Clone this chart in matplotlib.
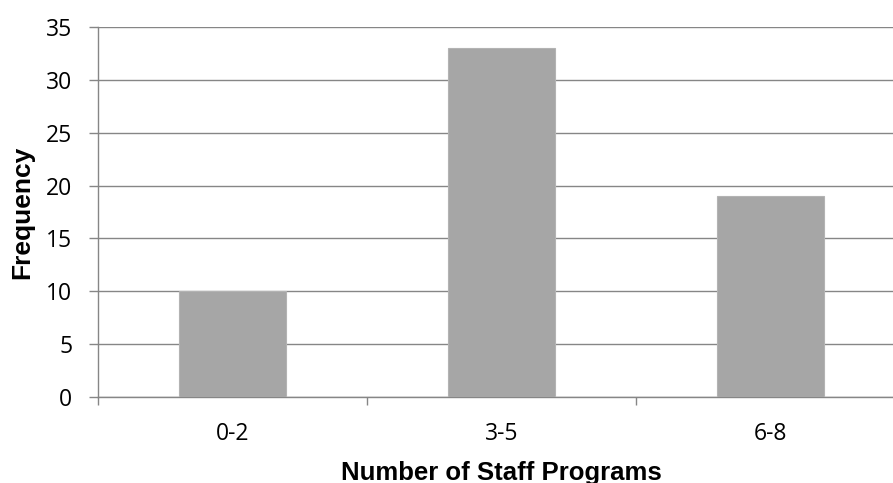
import numpy as np
import matplotlib
matplotlib.use("Agg")
import matplotlib.pyplot as plt
from matplotlib.ticker import FixedLocator

# frequency of staff program counts
categories = ["0-2", "3-5", "6-8"]
frequency = [10, 33, 19]
y_ticks = [0, 5, 10, 15, 20, 25, 30, 35]

grid_color = "#868686"
bar_color = "#a6a6a6"

fig = plt.figure(figsize=(8.93, 4.83), dpi=100)
# plot area runs a little past the right edge of the figure
ax = fig.add_axes([98 / 893, 1 - 397 / 483, 807 / 893, 370 / 483])

x = np.arange(len(categories))
ax.bar(x, frequency, width=0.4, color=bar_color, edgecolor="#b3b3b3",
       linewidth=0.8, zorder=3)

ax.set_xlim(-0.5, len(categories) - 0.5)
ax.set_ylim(0, 35)
ax.set_yticks(y_ticks)
ax.yaxis.grid(True, color=grid_color, linewidth=1.0, zorder=0)
ax.set_axisbelow(True)

for side in ["top", "right"]:
    ax.spines[side].set_visible(False)
ax.spines["left"].set_color(grid_color)
ax.spines["bottom"].set_color(grid_color)
ax.spines["left"].set_linewidth(1.0)
ax.spines["bottom"].set_linewidth(1.0)

# category labels in the middle, tick marks on the boundaries
ax.set_xticks(x)
ax.set_xticklabels(categories)
ax.xaxis.set_minor_locator(FixedLocator(np.arange(len(categories) + 1) - 0.5))
ax.tick_params(axis="x", which="major", length=0, pad=18, labelsize=16.5,
               labelcolor="#000000")
ax.tick_params(axis="x", which="minor", length=6, width=1, color=grid_color,
               direction="out")
ax.tick_params(axis="y", length=6.5, width=1, color=grid_color, pad=12,
               labelsize=16.5)
for lbl in ax.get_xticklabels() + ax.get_yticklabels():
    lbl.set_fontfamily("Open Sans")

ax.set_xlabel("Number of Staff Programs", fontsize=18.5, fontweight="bold",
              fontfamily="Liberation Sans")
ax.set_ylabel("Frequency", fontsize=19, fontweight="bold",
              fontfamily="Liberation Sans")
ax.xaxis.set_label_coords(0.5, -0.172)
ax.yaxis.set_label_coords(-0.079, 0.5)

fig.savefig("out.png", dpi=100)
